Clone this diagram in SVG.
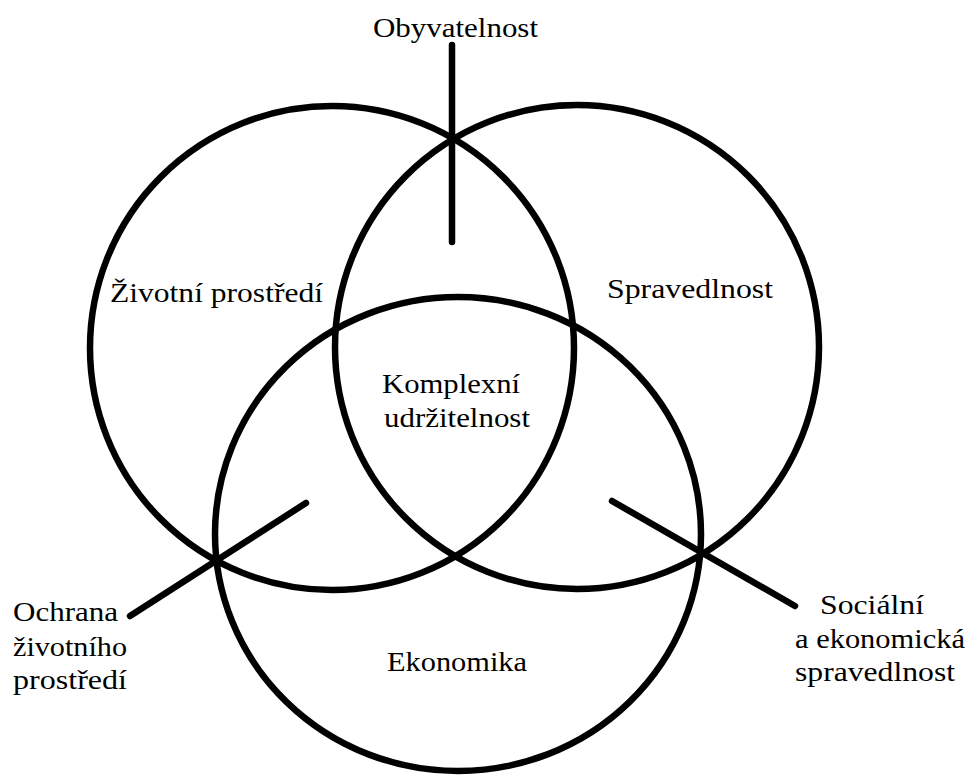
<svg xmlns="http://www.w3.org/2000/svg" width="970" height="776" viewBox="0 0 970 776">
  <style>
    .ring { fill: none; stroke: #000; stroke-width: 6.5; }
    .conn { stroke: #000; stroke-width: 6.5; stroke-linecap: round; fill: none; }
    .lbl { font-family: "Liberation Serif", "Times New Roman", serif; font-size: 28px; fill: #000; }
  </style>
  <rect width="970" height="776" fill="#fff"/>
  <g id="zivotni-prostredi">
    <circle class="ring" cx="332" cy="348" r="242"/>
    <text class="lbl" x="110" y="302" textLength="213" lengthAdjust="spacingAndGlyphs">Životní prostředí</text>
  </g>
  <g id="spravedlnost">
    <circle class="ring" cx="577" cy="347" r="242"/>
    <text class="lbl" x="607" y="298" textLength="166" lengthAdjust="spacingAndGlyphs">Spravedlnost</text>
  </g>
  <g id="ekonomika">
    <ellipse class="ring" cx="458" cy="534" rx="243" ry="237"/>
    <text class="lbl" x="387" y="671" textLength="140" lengthAdjust="spacingAndGlyphs">Ekonomika</text>
  </g>
  <g id="komplexni-udrzitelnost">
    <text class="lbl" x="382" y="393" textLength="138" lengthAdjust="spacingAndGlyphs">Komplexní</text>
    <text class="lbl" x="384" y="427" textLength="146" lengthAdjust="spacingAndGlyphs">udržitelnost</text>
  </g>
  <g id="obyvatelnost">
    <text class="lbl" x="373" y="37" textLength="165" lengthAdjust="spacingAndGlyphs">Obyvatelnost</text>
  </g>
  <g id="ochrana-zivotniho-prostredi">
    <text class="lbl" x="13" y="621" textLength="105" lengthAdjust="spacingAndGlyphs">Ochrana</text>
    <text class="lbl" x="13" y="656" textLength="114" lengthAdjust="spacingAndGlyphs">životního</text>
    <text class="lbl" x="13" y="689" textLength="114" lengthAdjust="spacingAndGlyphs">prostředí</text>
  </g>
  <g id="socialni-a-ekonomicka-spravedlnost">
    <text class="lbl" x="820" y="614" textLength="104" lengthAdjust="spacingAndGlyphs">Sociální</text>
    <text class="lbl" x="795" y="648" textLength="170" lengthAdjust="spacingAndGlyphs">a ekonomická</text>
    <text class="lbl" x="795" y="681" textLength="160" lengthAdjust="spacingAndGlyphs">spravedlnost</text>
  </g>
  <g id="connectors">
    <line class="conn" x1="452" y1="45" x2="452" y2="242"/>
    <line class="conn" x1="306" y1="503" x2="130" y2="616"/>
    <line class="conn" x1="612" y1="501" x2="795" y2="606"/>
  </g>
</svg>
